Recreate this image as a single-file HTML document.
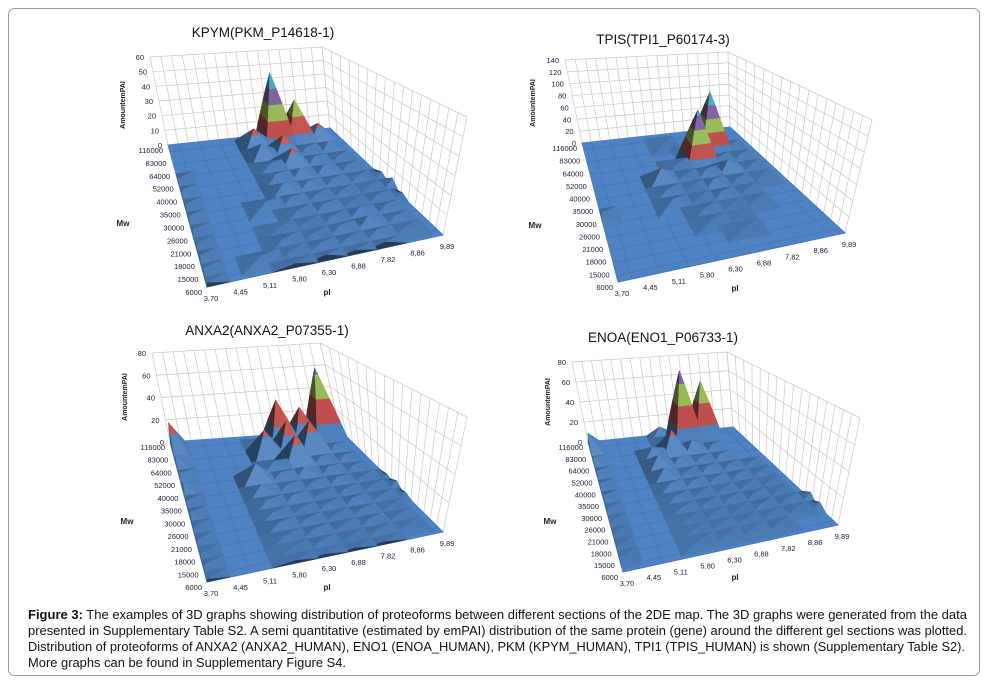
<!DOCTYPE html>
<html><head><meta charset="utf-8"><style>
html,body{margin:0;padding:0;background:#fff;}
svg{display:block;font-family:"Liberation Sans",sans-serif;}
</style></head><body>
<svg id="fig" width="984" height="684" viewBox="0 0 984 684">
<rect x="8.5" y="8.5" width="971" height="667" rx="6" fill="#fff" stroke="#9a9a9a"/>
<g id="panels"></g>
<g font-family="'Liberation Sans Narrow','Liberation Sans',sans-serif" font-size="13" fill="#111">
<text x="28" y="619" textLength="939" lengthAdjust="spacingAndGlyphs"><tspan font-weight="bold">Figure 3:</tspan> The examples of 3D graphs showing distribution of proteoforms between different sections of the 2DE map. The 3D graphs were generated from the data</text>
<text x="28" y="635" textLength="939" lengthAdjust="spacingAndGlyphs">presented in Supplementary Table S2. A semi quantitative (estimated by emPAI) distribution of the same protein (gene) around the different gel sections was plotted.</text>
<text x="28" y="651" textLength="937" lengthAdjust="spacingAndGlyphs">Distribution of proteoforms of ANXA2 (ANXA2_HUMAN), ENO1 (ENOA_HUMAN), PKM (KPYM_HUMAN), TPI1 (TPIS_HUMAN) is shown (Supplementary Table S2).</text>
<text x="28" y="667" textLength="318" lengthAdjust="spacingAndGlyphs">More graphs can be found in Supplementary Figure S4.</text>
</g>
</svg>
<script>
// categories (rows listed back -> front: 116000 first)
const mwLabels = ["116000","83000","64000","52000","40000","35000","30000","26000","21000","18000","15000","6000"];
const piLabels = ["3,70","4,45","5,11","5,80","6,30","6,88","7,82","8,86","9,89"];
const kpymTicks = [0,10,20,30,40,50,60];
const tpisTicks = [0,20,40,60,80,100,120,140];
const anxaTicks = [0,20,40,60,80];
const enoaTicks = [0,20,40,60,80];
const kpymValues = [
[0,0,0,0,0,0,2,0,0],
[0,0,0,0,13,50,30,12,0],
[0,0,0,0,10,14,4,6,0],
[3,0,0,0,4,12,5,3,0],
[4,0,0,0,5,6,6,4,0],
[3,0,0,0,6,5,4,3,3],
[4,0,0,4,4,3,3,2,5],
[3,0,0,0,3,4,2,3,2],
[2,0,0,2,2,3,5,4,0],
[3,0,0,3,2,4,6,3,0],
[3,0,3,2,3,3,4,2,0],
[2,0,0,2,3,2,3,0,0]];
const tpisValues = [
[0,0,0,0,0,0,0,0,0],
[0,0,0,0,3,0,0,0,0],
[0,0,0,0,0,4,100,6,0],
[0,0,0,0,6,88,8,8,0],
[0,0,0,22,6,10,20,6,0],
[0,0,0,8,4,12,6,3,0],
[8,0,0,10,4,9,5,0,0],
[0,0,0,0,6,3,4,0,0],
[0,0,0,0,5,2,0,0,0],
[0,0,0,0,0,3,0,0,0],
[0,0,0,0,0,0,0,0,0],
[0,0,0,0,0,0,0,0,0]];
const anxaValues = [
[0,0,0,0,0,3,0,0,0],
[28,0,0,0,4,40,32,65,0],
[10,0,0,0,24,30,28,6,0],
[6,0,0,0,6,26,6,5,0],
[8,0,0,16,6,8,6,4,0],
[4,0,0,8,5,4,5,3,2],
[5,0,0,5,6,3,4,3,4],
[3,0,0,4,3,4,5,3,2],
[3,0,0,5,4,3,4,2,0],
[2,0,0,3,4,3,4,3,0],
[3,0,0,2,3,2,3,2,0],
[2,0,0,2,2,2,2,0,0]];
const enoaValues = [
[0,0,0,0,8,0,0,0,0],
[20,0,0,0,6,72,60,0,0],
[8,0,0,10,24,12,6,0,0],
[6,0,0,12,8,5,6,0,0],
[5,0,0,10,4,6,5,3,0],
[5,0,0,6,5,4,4,3,0],
[3,0,0,4,3,3,3,2,0],
[2,0,0,3,3,3,3,2,0],
[2,0,0,2,2,2,3,3,5],
[2,0,0,2,2,2,2,2,4],
[2,0,0,2,2,2,2,0,0],
[0,0,0,0,0,0,0,0,0]];

const NS="http://www.w3.org/2000/svg";
const bandColors=["#4f81bd","#c0504d","#9bbb59","#8064a2","#4bacc6","#f79646","#4f81bd","#c0504d"];
function el(tag,attrs,parent){const e=document.createElementNS(NS,tag);for(const k in attrs)e.setAttribute(k,attrs[k]);if(parent)parent.appendChild(e);return e;}
function shade(hex,f){const n=parseInt(hex.slice(1),16);let r=(n>>16)&255,g=(n>>8)&255,b=n&255;
 const c=v=>Math.max(0,Math.min(255,Math.round(f>1?v+(255-v)*(f-1):v*f)));return "rgb("+c(r)+","+c(g)+","+c(b)+")";}

function drawPanel(cfg){
 const root=document.getElementById('panels');
 const g=el('g',{},root);
 
 
 const BL=cfg.BL,BR=cfg.BR,FR=cfg.FR,FL=cfg.FL;
 const dBL=[cfg.BLt[0]-BL[0],cfg.BLt[1]-BL[1]],dBR=[cfg.BRt[0]-BR[0],cfg.BRt[1]-BR[1]],dFR=[cfg.FRt[0]-FR[0],cfg.FRt[1]-FR[1]];
 const dFL=[dBL[0]+dFR[0]-dBR[0],dBL[1]+dFR[1]-dBR[1]];
 const zmax=cfg.ticks[cfg.ticks.length-1];
 const nC=piLabels.length,nR=mwLabels.length;
 function bil(a,b,c,d,u,v){
  return [(1-u)*(1-v)*a[0]+u*(1-v)*b[0]+u*v*c[0]+(1-u)*v*d[0],(1-u)*(1-v)*a[1]+u*(1-v)*b[1]+u*v*c[1]+(1-u)*v*d[1]];}
 function proj(u,v,z){const f=bil(FL,FR,BR,BL,u,v),d=bil(dFL,dFR,dBR,dBL,u,v);const t=z/zmax;return [f[0]+d[0]*t,f[1]+d[1]*t];}
 const colU=c=>c/(nC-1), rowV=r=>1-r/(nR-1);
 const hu=0.78/(nC-1), hv=0.78/(nR-1);
 const wall=el('g',{stroke:"#c8c8c8","stroke-width":"0.7",fill:"none"},g);
 
 
 const wallLine=(a,b)=>el('line',{x1:a[0],y1:a[1],x2:b[0],y2:b[1]},wall);
 for(let i=0;i<=16;i++){const u=i/16;wallLine(proj(u,1,0),proj(u,1,zmax));}
 for(let i=0;i<=16;i++){const v=i/16;wallLine(proj(1,v,0),proj(1,v,zmax));}
 cfg.ticks.forEach(t=>{wallLine(proj(0,1,t),proj(1,1,t));wallLine(proj(1,1,t),proj(1,0,t));});
 const fl=el('g',{},g);
 
 
 const q=[proj(0,0,0),proj(1,0,0),proj(1,1,0),proj(0,1,0)];
 el('polygon',{points:q.map(p=>p.join(',')).join(' '),fill:"#4f82c2",stroke:"#4f82c2"},fl);
 const gl=el('g',{stroke:"#3f70ad","stroke-width":"0.5"},fl);
 for(let c=0;c<nC;c++){const u=Math.min(1,Math.max(0,colU(c)+0.5/(nC-1)));const a=proj(u,0,0),b=proj(u,1,0);el('line',{x1:a[0],y1:a[1],x2:b[0],y2:b[1]},gl);}
 for(let r=0;r<nR;r++){const v=Math.min(1,Math.max(0,rowV(r)-0.5/(nR-1)));const a=proj(0,v,0),b=proj(1,v,0);el('line',{x1:a[0],y1:a[1],x2:b[0],y2:b[1]},gl);}
 const pyr=[];
 for(let r=0;r<nR;r++)for(let c=0;c<nC;c++){const z=cfg.values[r][c];if(z>0)pyr.push([r,c,z]);}
 pyr.sort((a,b)=>proj(colU(a[1]),rowV(a[0]),0)[1]-proj(colU(b[1]),rowV(b[0]),0)[1]);
 const surf=el('g',{},g);
 
 
 const step=cfg.ticks[1];
 pyr.forEach(([r,c,z])=>{
  const u=colU(c),v=rowV(r);
  const u0=Math.max(0,u-hu),u1=Math.min(1,u+hu),v0=Math.max(0,v-hv),v1=Math.min(1,v+hv);
  const apex=[u,v,z];
  const faces=[
   [[u0,v1,0],[u1,v1,0],apex],
   [[u1,v1,0],[u1,v0,0],apex],
   [[u0,v0,0],[u0,v1,0],apex],
   [[u1,v0,0],[u0,v0,0],apex]];
  faces.forEach(t=>{
   const W=p=>[p[0]*8,p[1]*11,p[2]/zmax*3];
   const A=W(t[0]),B=W(t[1]),C=W(t[2]);
   const e1=[B[0]-A[0],B[1]-A[1],B[2]-A[2]],e2=[C[0]-A[0],C[1]-A[1],C[2]-A[2]];
   let n=[e1[1]*e2[2]-e1[2]*e2[1],e1[2]*e2[0]-e1[0]*e2[2],e1[0]*e2[1]-e1[1]*e2[0]];
   const L=Math.hypot(...n)||1;n=n.map(x=>x/L);if(n[2]<0)n=n.map(x=>-x);
   const Lv=[0.45,-0.6,0.66];const dot=n[0]*Lv[0]+n[1]*Lv[1]+n[2]*Lv[2];
   const f=0.45+0.7*Math.max(0,dot);
   for(let k=0;k*step<z;k++){
    const lo=k*step,hi=(k+1)*step;
    const clip=(pg,lim,keepAbove)=>{const out=[];for(let i=0;i<pg.length;i++){const p=pg[i],q2=pg[(i+1)%pg.length];
      const ip=keepAbove?p[2]>=lim:p[2]<=lim,iq=keepAbove?q2[2]>=lim:q2[2]<=lim;
      if(ip)out.push(p);if(ip!==iq){const s=(lim-p[2])/(q2[2]-p[2]);out.push([p[0]+(q2[0]-p[0])*s,p[1]+(q2[1]-p[1])*s,lim]);}}return out;};
    let poly=clip(t,lo,true);if(poly.length<3)continue;
    poly=clip(poly,hi,false);
    if(poly.length>=3){
     const pts=poly.map(p=>proj(p[0],p[1],p[2]).map(x=>x.toFixed(1)).join(',')).join(' ');
     const col=shade(bandColors[k%bandColors.length],f);
     el('polygon',{points:pts,fill:col,stroke:col,"stroke-width":"0.4"},surf);
    }
   }
  });
 });
 const lab=el('g',{"font-size":"7.5",fill:"#1a1a3a"},g);
 
 
 cfg.ticks.forEach(t=>{const p=proj(0,1,t);const tx=el('text',{x:p[0]-6,y:p[1]+3,"text-anchor":"end"},lab);tx.textContent=t;
  
  });
 mwLabels.forEach((m,r)=>{const p=proj(0,rowV(r),0);const tx=el('text',{x:p[0]-5,y:p[1]+8,"text-anchor":"end"},lab);tx.textContent=m;
  
  });
 piLabels.forEach((s,c)=>{const p=proj(colU(c),0,0);const tx=el('text',{x:p[0]+4,y:p[1]+14,"text-anchor":"middle"},lab);tx.textContent=s;
  
  });
 const ttl=el('text',{x:cfg.title[0],y:cfg.title[1],"text-anchor":"middle","font-size":"13.5",fill:"#111"},g);ttl.textContent=cfg.titleText;
 
 
 const zt=el('text',{x:0,y:0,"text-anchor":"middle","font-size":"7","font-weight":"bold",fill:"#222",transform:"translate("+cfg.zt[0]+","+cfg.zt[1]+") rotate(-90)"},g);zt.textContent="AmountemPAI";
 
 
 const mw=el('text',{x:cfg.mw[0],y:cfg.mw[1],"text-anchor":"middle","font-size":"8","font-weight":"bold",fill:"#222"},g);mw.textContent="Mw";
 
 
 const pi=el('text',{x:cfg.pi[0],y:cfg.pi[1],"text-anchor":"middle","font-size":"8","font-weight":"bold",fill:"#222"},g);pi.textContent="pI";
 
 
}
drawPanel({name:"kpym-chart",titleText:"KPYM(PKM_P14618-1)",values:kpymValues,ticks:kpymTicks,
 BL:[168,145],BLt:[150,57],BR:[330,128],BRt:[322,47],FR:[443,235],FRt:[467,117],FL:[207,287],
 title:[263,37],zt:[125,105],mw:[123,226],pi:[327,295]});
drawPanel({name:"tpis-chart",titleText:"TPIS(TPI1_P60174-3)",values:tpisValues,ticks:tpisTicks,
 BL:[582,143],BLt:[565,60],BR:[730,127],BRt:[728,52],FR:[845,233],FRt:[872,120],FL:[618,282],
 title:[663,44],zt:[535,103],mw:[535,228],pi:[735,291]});
drawPanel({name:"anxa2-chart",titleText:"ANXA2(ANXA2_P07355-1)",values:anxaValues,ticks:anxaTicks,
 BL:[170,442],BLt:[152,353],BR:[340,430],BRt:[320,343],FR:[443,532],FRt:[467,417],FL:[207,582],
 title:[267,335],zt:[127,397],mw:[127,524],pi:[327,590]});
drawPanel({name:"enoa-chart",titleText:"ENOA(ENO1_P06733-1)",values:enoaValues,ticks:enoaTicks,
 BL:[588,442],BLt:[572,362],BR:[733,427],BRt:[727,352],FR:[838,525],FRt:[860,418],FL:[623,572],
 title:[663,342],zt:[550,402],mw:[550,524],pi:[735,580]});
</script>
</body></html>
